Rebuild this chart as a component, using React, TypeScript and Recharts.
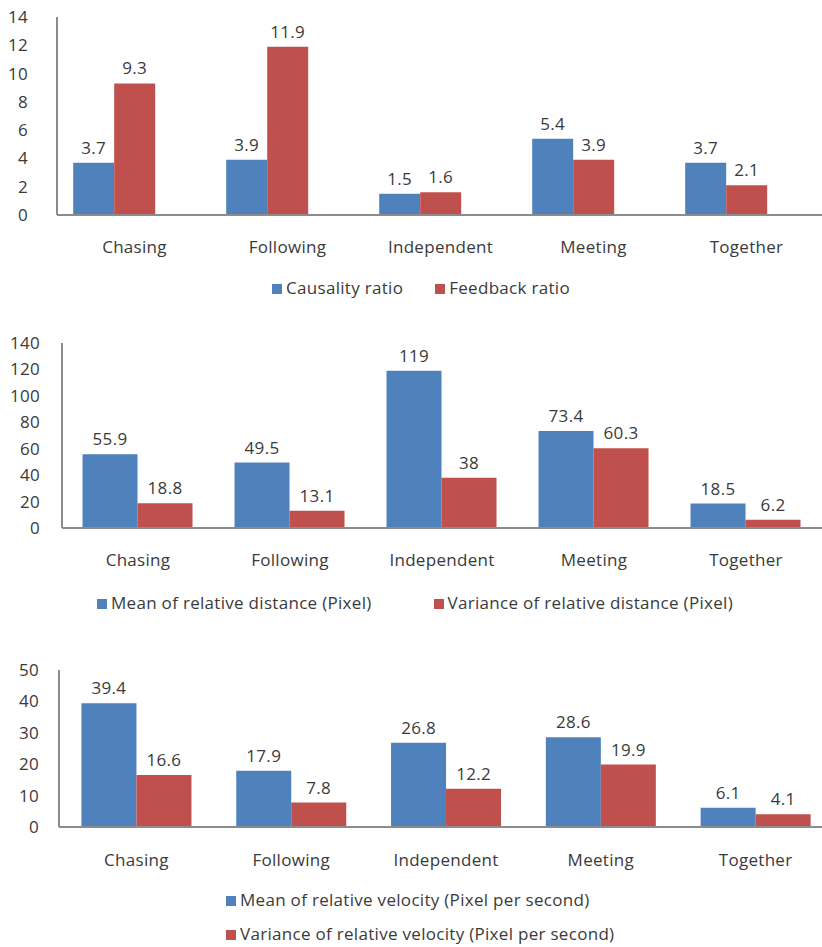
import React from "react";
import { BarChart, Bar, XAxis, YAxis, Legend, LabelList } from "recharts";

const categories = ["Chasing", "Following", "Independent", "Meeting", "Together"];

const causalityRatio = [3.7, 3.9, 1.5, 5.4, 3.7];
const feedbackRatio = [9.3, 11.9, 1.6, 3.9, 2.1];

const meanDistance = [55.9, 49.5, 119, 73.4, 18.5];
const varianceDistance = [18.8, 13.1, 38, 60.3, 6.2];

const meanVelocity = [39.4, 17.9, 26.8, 28.6, 6.1];
const varianceVelocity = [16.6, 7.8, 12.2, 19.9, 4.1];

const ticks1 = [0, 2, 4, 6, 8, 10, 12, 14];
const ticks2 = [0, 20, 40, 60, 80, 100, 120, 140];
const ticks3 = [0, 10, 20, 30, 40, 50];

const BLUE = "#4F81BD";
const RED = "#C0504D";
const TEXT = "#3a3a3a";
const AXIS = "#8c8c8c";
const FONT = "'Open Sans', sans-serif";
const FS = 17;

const build = (a: number[], b: number[]) =>
  categories.map((name, i) => ({ name, a: a[i], b: b[i] }));

interface PanelProps {
  top: number;
  height: number;
  data: { name: string; a: number; b: number }[];
  nameA: string;
  nameB: string;
  ticks: number[];
  plotTop: number;
  plotBottom: number;
  plotRight?: number;
  axisX: number;
  yMargin: number;
  xMargin: number;
  xPad?: { left: number; right: number };
  labelShift?: number;
  gap: string;
  legendTop: number;
  legendLeft: number;
  legendGap: number;
  legendLayout: "horizontal" | "vertical";
  legendLine?: number;
}

const Panel: React.FC<PanelProps> = (p) => {
  const xAxisHeight = 40;
  const marginBottom = p.height - p.plotBottom - xAxisHeight;
  return (
    <div style={{ position: "absolute", left: 0, top: p.top, width: 822, height: p.height }}>
      <BarChart
        width={822}
        height={p.height}
        data={p.data}
        margin={{ top: p.plotTop, right: p.plotRight ?? 0, bottom: marginBottom, left: 0 }}
        barGap={0}
        barCategoryGap={p.gap}
        style={{ fontFamily: FONT, letterSpacing: 0.3 }}
      >
        <XAxis
          dataKey="name"
          height={xAxisHeight}
          tickLine={false}
          tickSize={0}
          tickMargin={p.xMargin}
          padding={p.xPad ?? { left: 0, right: 0 }}
          axisLine={{ stroke: AXIS, strokeWidth: 2 }}
          tick={{ fill: TEXT, fontSize: FS, dx: p.labelShift ?? 0 }}
          interval={0}
        />
        <YAxis
          width={p.axisX}
          domain={[0, p.ticks[p.ticks.length - 1]]}
          ticks={p.ticks}
          interval={0}
          tickLine={false}
          tickSize={0}
          tickMargin={p.yMargin}
          axisLine={{ stroke: AXIS, strokeWidth: 2 }}
          tick={{ fill: TEXT, fontSize: FS }}
        />
        <Legend
          layout={p.legendLayout}
          verticalAlign="middle"
          align="center"
          iconType="square"
          iconSize={10}
          wrapperStyle={{
            top: p.legendTop,
            left: p.legendLeft,
            width: "max-content",
            lineHeight: p.legendLine ? `${p.legendLine}px` : undefined,
            fontSize: FS,
          }}
          formatter={(value: string) => (
            <span style={{ color: TEXT, marginRight: p.legendGap }}>{value}</span>
          )}
        />
        <Bar dataKey="a" name={p.nameA} fill={BLUE} isAnimationActive={false}>
          <LabelList dataKey="a" position="top" offset={9} fill={TEXT} fontSize={FS} />
        </Bar>
        <Bar dataKey="b" name={p.nameB} fill={RED} isAnimationActive={false}>
          <LabelList dataKey="b" position="top" offset={9} fill={TEXT} fontSize={FS} />
        </Bar>
      </BarChart>
    </div>
  );
};

export default function App() {
  return (
    <div
      style={{
        position: "absolute",
        left: 0,
        top: 0,
        width: 822,
        height: 947,
        background: "#fff",
        overflow: "hidden",
      }}
    >
      <Panel
        top={0}
        height={310}
        data={build(causalityRatio, feedbackRatio)}
        nameA="Causality ratio"
        nameB="Feedback ratio"
        ticks={ticks1}
        plotTop={17}
        plotBottom={215}
        axisX={57}
        yMargin={29}
        xMargin={26}
        xPad={{ left: -19, right: 19 }}
        labelShift={20}
        gap="23%"
        legendTop={276}
        legendLeft={272}
        legendGap={22}
        legendLayout="horizontal"
      />
      <Panel
        top={320}
        height={300}
        data={build(meanDistance, varianceDistance)}
        nameA="Mean of relative distance (Pixel)"
        nameB="Variance of relative distance (Pixel)"
        ticks={ticks2}
        plotTop={23}
        plotBottom={208}
        axisX={62}
        yMargin={22}
        xMargin={26}
        gap="13.5%"
        legendTop={271}
        legendLeft={97}
        legendGap={52}
        legendLayout="horizontal"
      />
      <Panel
        top={640}
        height={307}
        data={build(meanVelocity, varianceVelocity)}
        nameA="Mean of relative velocity (Pixel per second)"
        nameB="Variance of relative velocity (Pixel per second)"
        ticks={ticks3}
        plotTop={30}
        plotBottom={187}
        plotRight={-11}
        axisX={59}
        yMargin={20}
        xMargin={27}
        gap="14.5%"
        legendTop={243}
        legendLeft={226}
        legendGap={0}
        legendLayout="vertical"
        legendLine={34}
      />
    </div>
  );
}
